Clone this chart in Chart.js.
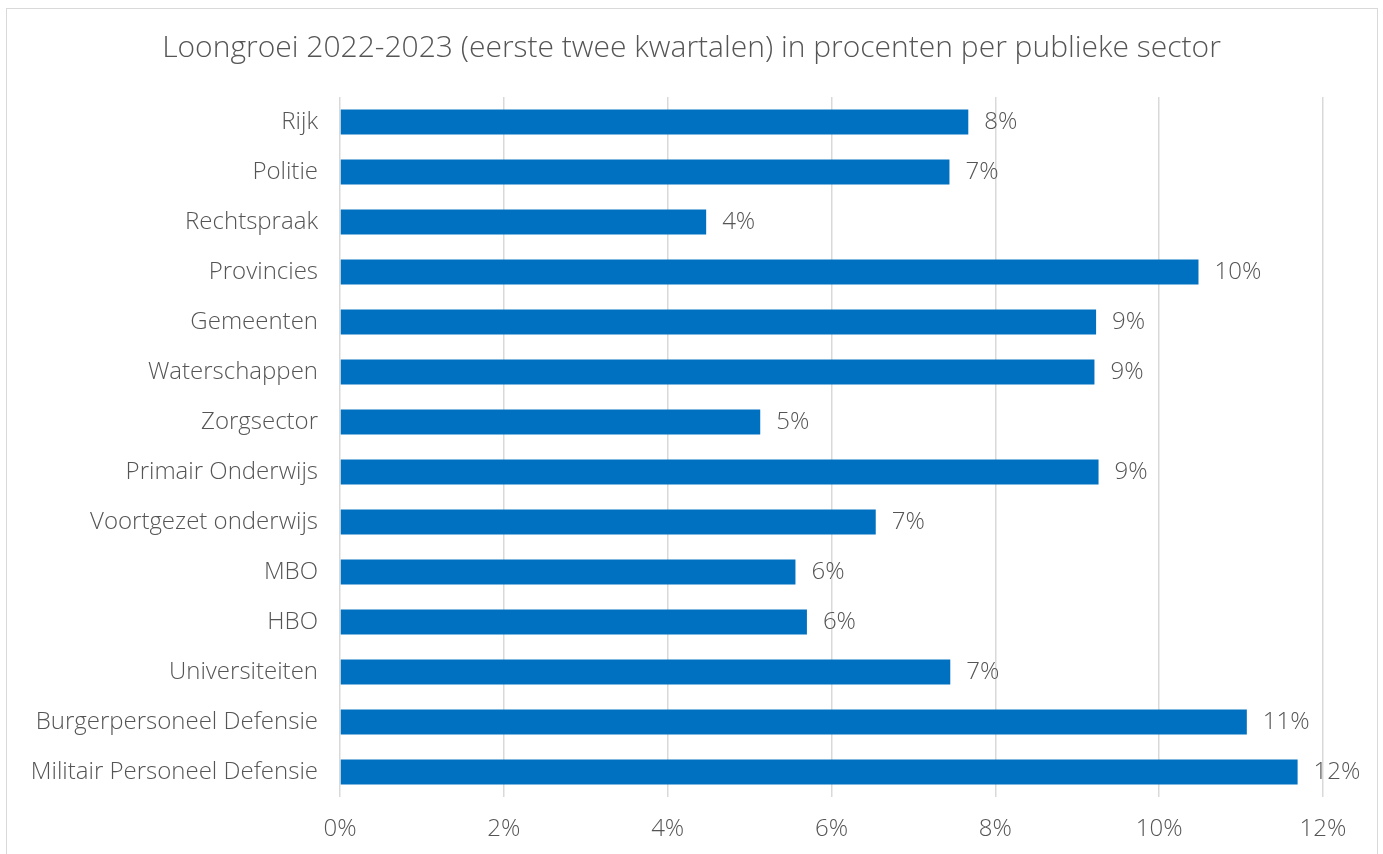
<!DOCTYPE html>
<html>
<head>
<meta charset="utf-8">
<script src="https://cdn.jsdelivr.net/npm/chart.js@4/dist/chart.umd.min.js"></script>
<style>
  html, body { margin: 0; padding: 0; background: #fff; }
  #wrap { position: relative; width: 1383px; height: 854px; }
  #frame { position: absolute; left: 6px; top: 8px; width: 1370px; height: 900px;
           border: 1.5px solid #d9d9d9; pointer-events: none; }
</style>
</head>
<body>
<div id="wrap">
  <canvas id="loongroei" width="1383" height="854"></canvas>
  <div id="frame"></div>
</div>
<script>
// Loongroei per sector
const sectoren = [
  'Rijk', 'Politie', 'Rechtspraak', 'Provincies', 'Gemeenten', 'Waterschappen',
  'Zorgsector', 'Primair Onderwijs', 'Voortgezet onderwijs', 'MBO', 'HBO',
  'Universiteiten', 'Burgerpersoneel Defensie', 'Militair Personeel Defensie'
];
const groei = [7.67, 7.44, 4.47, 10.48, 9.23, 9.21, 5.13, 9.26, 6.54, 5.56, 5.70, 7.45, 11.07, 11.69];
const tickWaarden = [0, 2, 4, 6, 8, 10, 12];
const titel = 'Loongroei 2022-2023 (eerste twee kwartalen) in procenten per publieke sector';

const tekstKleur = '#555555';
const font = '"Open Sans", Lato, sans-serif';

// titel gecentreerd over de hele afbeelding
const titelPlugin = {
  id: 'titelPlugin',
  afterDraw(chart) {
    const ctx = chart.ctx;
    ctx.save();
    ctx.font = '300 30px ' + font;
    ctx.fillStyle = tekstKleur;
    ctx.textAlign = 'center';
    ctx.textBaseline = 'middle';
    ctx.fillText(titel, chart.width / 2, 48);
    ctx.restore();
  }
};

// labels achter de balken
const waardeLabels = {
  id: 'waardeLabels',
  afterDatasetsDraw(chart) {
    const ctx = chart.ctx;
    const meta = chart.getDatasetMeta(0);
    ctx.save();
    ctx.font = '300 24px ' + font;
    ctx.fillStyle = tekstKleur;
    ctx.textAlign = 'left';
    ctx.textBaseline = 'middle';
    meta.data.forEach((bar, i) => {
      ctx.fillText(Math.round(groei[i]) + '%', bar.x + 16, bar.y);
    });
    ctx.restore();
  }
};

new Chart(document.getElementById('loongroei'), {
  type: 'bar',
  data: {
    labels: sectoren,
    datasets: [{
      data: groei,
      backgroundColor: '#0070c0',
      barPercentage: 0.5,
      categoryPercentage: 1
    }]
  },
  options: {
    indexAxis: 'y',
    responsive: false,
    animation: false,
    layout: { padding: { top: 97, right: 60, left: 0, bottom: 0 } },
    plugins: {
      legend: { display: false },
      tooltip: { enabled: false },
      title: { display: false }
    },
    scales: {
      x: {
        min: 0,
        max: 12,
        afterBuildTicks(scale) {
          scale.ticks = tickWaarden.map(v => ({ value: v }));
        },
        afterFit(scale) { scale.height = 57; },
        grid: { color: '#d9d9d9', lineWidth: 1.5, drawTicks: false },
        border: { display: false },
        ticks: {
          padding: 18,
          color: tekstKleur,
          font: { family: font, size: 24, weight: 300 },
          callback: v => v + '%'
        }
      },
      y: {
        afterFit(scale) { scale.width = 340; },
        grid: { display: false, drawTicks: false },
        border: { display: false },
        ticks: {
          padding: 22,
          color: tekstKleur,
          font: { family: font, size: 24, weight: 300 }
        }
      }
    }
  },
  plugins: [waardeLabels, titelPlugin]
});
</script>
</body>
</html>
